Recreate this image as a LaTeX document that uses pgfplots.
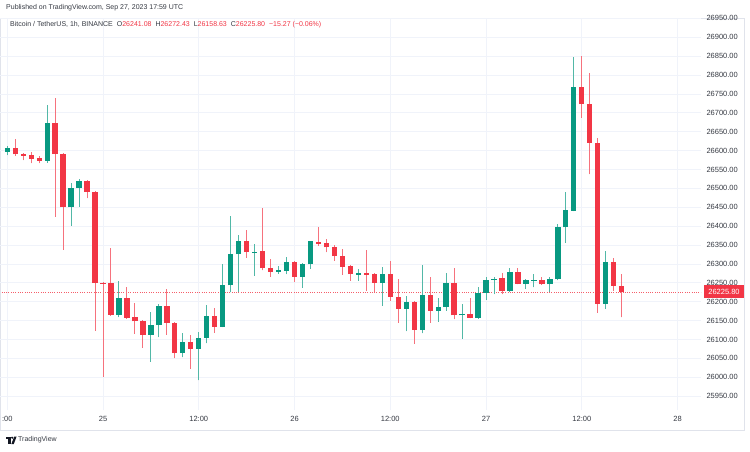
\documentclass[border=0pt]{standalone}
\usepackage{fontspec}
\setmainfont{Liberation Sans}
\usepackage{pgfplots}
\usepackage{pgfplotstable}
\pgfplotsset{compat=1.18}
\definecolor{tvgreen}{HTML}{089981}
\definecolor{tvred}{HTML}{F23645}
\definecolor{tvgrid}{HTML}{F0F3FA}
\definecolor{tvframe}{HTML}{E0E3EB}
\definecolor{tvtext}{HTML}{131722}

% hours from 25 Sep 00:00 UTC, open high low close
\pgfplotstableread{
x o h l c
-12 26597 26612 26588 26608
-7 26573 26721 26568 26673
-4 26450 26514 26401 26502
-3 26501 26525 26452 26520
2 26165 26255 26159 26209
6 26113 26174 26041 26138
7 26138 26193 26106 26189
10 26064 26117 26053 26094
12 26075 26120 25992 26104
13 26104 26191 26090 26162
15 26134 26300 26133 26244
16 26243 26427 26225 26326
17 26326 26377 26225 26360
19 26329 26353 26269 26332
22 26280 26294 26274 26284
23 26282 26318 26273 26305
25 26266 26302 26237 26299
26 26299 26362 26287 26360
32 26272 26286 26256 26275
35 26250 26291 26190 26273
38 26182 26215 26122 26198
40 26126 26297 26116 26218
42 26175 26209 26147 26186
43 26186 26277 26176 26249
45 26164 26193 26102 26167
47 26158 26240 26155 26223
48 26224 26265 26205 26258
49 26257 26266 26220 26260
51 26229 26290 26227 26278
53 26248 26261 26235 26257
54 26256 26273 26238 26258
56 26246 26265 26227 26260
57 26259 26405 26257 26398
58 26397 26491 26356 26443
59 26441 26849 26440 26768
63 26194 26334 26181 26305
}\upcandles

\pgfplotstableread{
x o h l c
-11 26608 26630 26587 26590
-10 26591 26594 26575 26587
-9 26588 26596 26567 26578
-8 26580 26585 26567 26573
-6 26673 26740 26425 26591
-5 26592 26593 26337 26450
-2 26520 26521 26474 26491
-1 26491 26492 26123 26249
0 26250 26251 26002 26248
1 26249 26343 26163 26165
3 26209 26238 26155 26158
4 26159 26196 26115 26148
5 26150 26152 26078 26113
8 26189 26234 26112 26144
9 26145 26147 26051 26064
11 26094 26111 26022 26075
14 26162 26183 26118 26134
18 26360 26390 26317 26331
20 26333 26449 26283 26288
21 26289 26312 26266 26280
24 26305 26308 26252 26266
27 26358 26399 26348 26354
28 26355 26365 26331 26344
29 26345 26350 26309 26321
30 26322 26340 26271 26293
31 26294 26296 26256 26273
33 26275 26337 26229 26272
34 26273 26276 26227 26250
36 26274 26307 26202 26213
37 26213 26259 26144 26182
39 26198 26202 26089 26126
41 26218 26266 26145 26176
44 26249 26289 26154 26164
46 26168 26209 26156 26158
50 26262 26275 26220 26229
52 26278 26290 26246 26248
55 26258 26265 26245 26246
60 26768 26851 26687 26723
61 26723 26805 26538 26621
62 26621 26634 26171 26194
64 26305 26315 26229 26242
65 26241.08 26272.43 26158.63 26225.80
}\downcandles

\pgfplotsset{candle/.style={only marks, mark=*, mark size=0pt, mark options={draw=none, fill=none},
  error bars/.cd, y dir=plus, y explicit, error mark=none}}

\begin{document}
\begin{tikzpicture}
\path[use as bounding box, fill=white] (0pt,0pt) rectangle (750pt,451pt);
\draw[tvframe, line width=0.8pt] (0.4pt,21pt) rectangle (744pt,433pt);

\begin{axis}[
  at={(0pt,41pt)}, anchor=south west,
  scale only axis, width=701pt, height=392pt,
  xmin=-12.91, xmax=74.94, ymin=25913.4, ymax=26951,
  axis line style={draw=none}, tick style={draw=none},
  grid=major, major grid style={tvgrid, line width=0.8pt},
  xtick={-12,0,12,24,36,48,60,72},
  xticklabels={:00,25,12:00,26,12:00,27,12:00,28},
  ytick={25950,26000,...,26950},
  scaled y ticks=false,
  yticklabel pos=right,
  /pgf/number format/assume math mode=true,
  yticklabel={\pgfmathprintnumber[fixed,fixed zerofill,precision=2,1000 sep={}]{\tick}},
  ticklabel style={font=\fontsize{7.5}{9}\selectfont, text=tvtext!85},
  yticklabel style={anchor=west, xshift=2pt},
  xticklabel style={yshift=-3pt},
]
% last price line
\addplot[tvred!80, dash pattern=on 1pt off 1.3pt, line width=0.7pt] coordinates {(-13,26225.8) (75,26225.8)};
% wicks
\addplot[candle, error bar style={line width=1pt, draw=tvgreen!70}]
  table[x=x, y=l, y error expr=\thisrow{h}-\thisrow{l}] {\upcandles};
\addplot[candle, error bar style={line width=1pt, draw=tvred!70}]
  table[x=x, y=l, y error expr=\thisrow{h}-\thisrow{l}] {\downcandles};
% bodies
\addplot[candle, error bar style={line width=5.3pt, draw=tvgreen}]
  table[x=x, y=o, y error expr={max(\thisrow{c}-\thisrow{o},2.6)}] {\upcandles};
\addplot[candle, error bar style={line width=5.3pt, draw=tvred}]
  table[x=x, y=c, y error expr={max(\thisrow{o}-\thisrow{c},2.6)}] {\downcandles};
\end{axis}

% last price tag
\fill[tvred] (704pt,153pt) rectangle (744pt,166pt);
\node[text=white, font=\fontsize{7.5}{9}\selectfont, inner sep=0pt] at (724pt,159.5pt) {26225.80};

% header
\node[anchor=west, inner sep=0pt, text=tvtext!85, font=\fontsize{7}{8}\selectfont] at (6pt,443pt)
  {Published on TradingView.com, Sep 27, 2023 17:59 UTC};
\node[anchor=west, inner sep=0pt, text=tvtext!85, font=\fontsize{7}{8}\selectfont] at (10pt,426pt)
  {Bitcoin / TetherUS, 1h, BINANCE\hspace{4pt}O\textcolor{tvred}{26241.08}\hspace{4pt}H\textcolor{tvred}{26272.43}\hspace{4pt}L\textcolor{tvred}{26158.63}\hspace{4pt}C\textcolor{tvred}{26225.80}\hspace{4pt}\textcolor{tvred}{−15.27 (−0.06\%)}};

% footer logo
\fill[tvtext] (6pt,14.5pt) rectangle (10.6pt,12pt);
\fill[tvtext] (8.4pt,12pt) rectangle (10.6pt,7pt);
\fill[tvtext] (12.2pt,13.3pt) circle (1.2pt);
\fill[tvtext] (11.4pt,7pt) -- (14.2pt,14.5pt) -- (16.6pt,14.5pt) -- (13.8pt,7pt) -- cycle;
\node[anchor=west, inner sep=0pt, text=tvtext!85, font=\fontsize{7}{8}\selectfont] at (18pt,11pt) {TradingView};
\end{tikzpicture}
\end{document}
